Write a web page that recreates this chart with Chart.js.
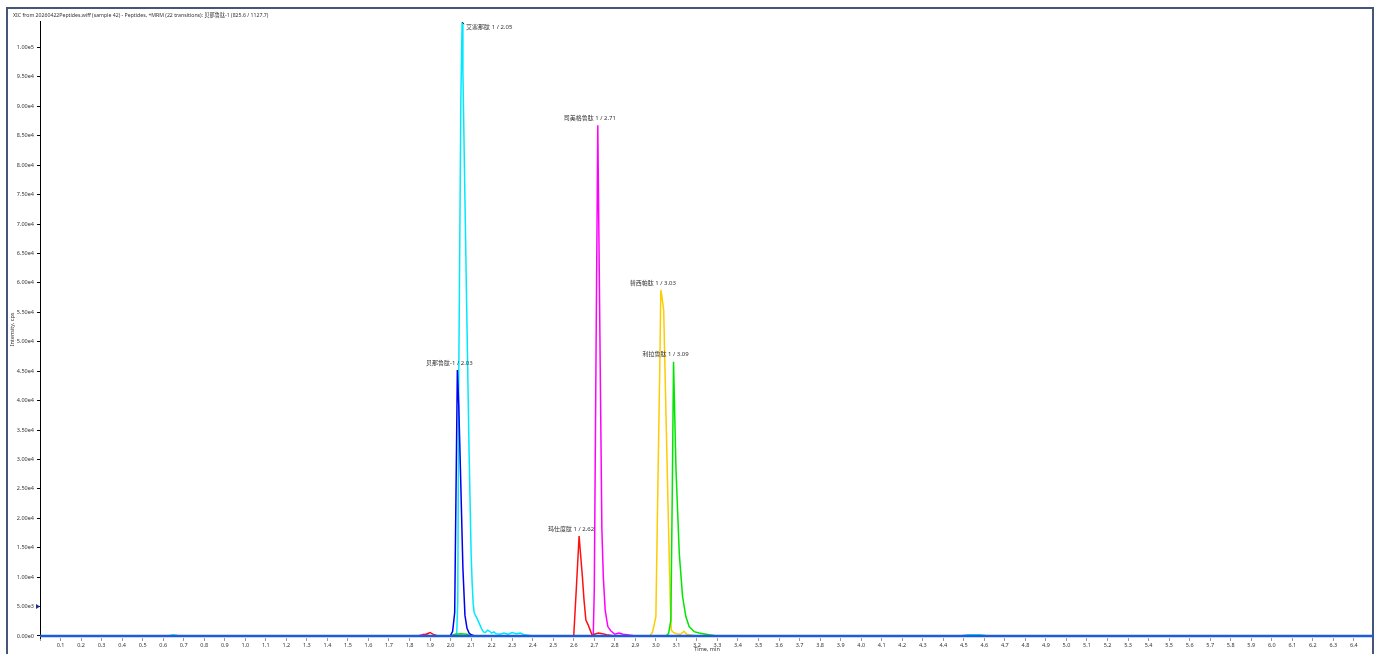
<!DOCTYPE html>
<html>
<head>
<meta charset="utf-8">
<script src="https://cdn.jsdelivr.net/npm/chart.js@4.4.1/dist/chart.umd.min.js"></script>
<style>
  body { margin: 0; background: #fff; }
  #frame { position: absolute; left: 6px; top: 7px; width: 1368px; height: 660px; border: 2px solid #46567a; box-sizing: border-box; }
  #c { position: absolute; left: 0; top: 0; }
</style>
</head>
<body>
<div id="frame"></div>
<canvas id="c" width="1377" height="654"></canvas>
<script>
// XIC traces, time in min, intensity in cps
const titleText = 'XIC from 20260422Peptides.wiff (sample 42) - Peptides, +MRM (22 transitions): 贝那鲁肽-1 (825.6 / 1127.7)';

const yTicks = [0, 5000, 10000, 15000, 20000, 25000, 30000, 35000, 40000, 45000, 50000,
    55000, 60000, 65000, 70000, 75000, 80000, 85000, 90000, 95000, 100000];

const baseTime = [0, 6.5];
const baseInt = [0, 0];

const blueTime = [0, 1.98, 2.00, 2.01, 2.02, 2.025, 2.033, 2.04, 2.05, 2.06, 2.07, 2.08, 2.09, 2.10, 2.12, 6.5];
const blueInt = [0, 0, 100, 800, 4000, 20000, 45200, 39000, 25500, 11500, 3500, 1300, 500, 200, 0, 0];

const cyanTime = [0, 0.62, 0.65, 0.68, 2.02, 2.03, 2.035, 2.04, 2.05, 2.056, 2.06, 2.07, 2.08, 2.09, 2.10, 2.105, 2.11, 2.115, 2.12, 2.13, 2.14, 2.15, 2.16, 2.17, 2.18, 2.19, 2.20, 2.21, 2.22, 2.24, 2.26, 2.28, 2.30, 2.32, 2.34, 2.36, 2.40, 4.48, 4.52, 4.58, 4.62, 6.5];
const cyanInt = [0, 0, 200, 0, 0, 400, 6000, 45000, 91000, 104300, 96000, 74000, 52500, 31500, 14000, 9000, 5500, 4000, 3600, 2900, 2100, 1300, 700, 600, 1000, 800, 500, 700, 400, 300, 500, 300, 600, 400, 500, 200, 0, 0, 200, 200, 0, 0];

const redTime = [0, 1.86, 1.88, 1.90, 1.92, 1.94, 2.59, 2.60, 2.613, 2.626, 2.634, 2.642, 2.65, 2.659, 2.67, 2.68, 2.69, 2.70, 2.72, 2.74, 2.76, 2.80, 6.5];
const redInt = [0, 0, 300, 600, 200, 0, 0, 100, 8400, 17000, 13500, 10100, 6100, 2700, 1900, 1000, 100, 300, 500, 400, 200, 0, 0];

const magentaTime = [0, 1.84, 1.87, 1.90, 2.69, 2.695, 2.70, 2.71, 2.717, 2.737, 2.744, 2.753, 2.766, 2.78, 2.79, 2.80, 2.82, 2.84, 2.86, 2.90, 6.5];
const magentaInt = [0, 0, 300, 0, 0, 200, 8000, 55000, 86800, 18000, 10000, 4400, 1600, 900, 600, 300, 500, 300, 200, 0, 0];

const yellowTime = [0, 2.97, 2.984, 3.00, 3.01, 3.02, 3.024, 3.03, 3.038, 3.045, 3.05, 3.06, 3.065, 3.07, 3.075, 3.085, 3.10, 3.12, 3.137, 3.15, 3.20, 6.5];
const yellowInt = [0, 0, 700, 3300, 26000, 48000, 58800, 57500, 55400, 44200, 36400, 21000, 13700, 5800, 1000, 600, 400, 300, 800, 300, 0, 0];

const greenTime = [0, 2.00, 2.02, 2.05, 2.08, 2.10, 3.05, 3.062, 3.073, 3.08, 3.086, 3.098, 3.114, 3.13, 3.146, 3.162, 3.187, 3.21, 3.23, 3.26, 3.30, 6.5];
const greenInt = [0, 0, 300, 400, 300, 0, 0, 450, 2700, 25000, 46600, 28200, 14000, 6700, 3300, 1600, 730, 500, 400, 200, 0, 0];

const peakNames = ['贝那鲁肽-1 / 2.03', '艾塞那肽 1 / 2.05', '玛仕度肽 1 / 2.62', '司美格鲁肽 1 / 2.71', '替西帕肽 1 / 3.03', '利拉鲁肽 1 / 3.09'];

function series(label, times, values, color, width) {
    return {
        label: label,
        data: times.map((t, i) => ({ x: t, y: values[i] })),
        borderColor: color,
        borderWidth: width,
        pointRadius: 0,
        tension: 0,
        fill: false
    };
}

// first dataset is drawn on top
const datasets = [
    series('other transitions', baseTime, baseInt, '#1f5bd8', 2.5),
    series(peakNames[0], blueTime, blueInt, '#0000f0', 1.5),
    series(peakNames[5], greenTime, greenInt, '#00e600', 1.5),
    series(peakNames[4], yellowTime, yellowInt, '#ffcc00', 1.5),
    series(peakNames[2], redTime, redInt, '#ff1010', 1.5),
    series(peakNames[3], magentaTime, magentaInt, '#ff00ff', 1.5),
    series(peakNames[1], cyanTime, cyanInt, '#00e8ff', 1.5)
];

const font = "'Noto Sans', 'Noto Sans CJK SC', sans-serif";

// title, peak labels and threshold marker
const annotate = {
    id: 'annotate',
    afterDatasetsDraw(chart) {
        const c = chart.ctx;
        const xs = chart.scales.x, ys = chart.scales.y;
        c.save();
        c.fillStyle = '#333';
        c.font = '5.2px ' + font;
        c.textAlign = 'left';
        c.textBaseline = 'middle';
        c.fillText(titleText, 13, 16);

        c.font = '6px ' + font;
        chart.data.datasets.forEach((ds, i) => {
            if (i === 0) return;
            let top = ds.data[0];
            ds.data.forEach(p => { if (p.y > top.y) top = p; });
            const px = xs.getPixelForValue(top.x);
            const py = ys.getPixelForValue(top.y);
            if (ds.label === peakNames[1]) {
                c.textAlign = 'left';
                c.fillText(ds.label, px + 4, py + 5);
                c.strokeStyle = '#222';
                c.lineWidth = 1;
                c.beginPath();
                c.moveTo(px, py); c.lineTo(px + 2, py + 2);
                c.stroke();
            } else {
                c.textAlign = 'center';
                c.fillText(ds.label, px - 8, py - 7);
            }
        });

        // threshold marker on the y axis
        const my = ys.getPixelForValue(5000);
        c.fillStyle = '#1a2f9a';
        c.beginPath();
        c.moveTo(36, my - 2.5); c.lineTo(40, my); c.lineTo(36, my + 2.5);
        c.closePath();
        c.fill();
        c.restore();
    }
};

new Chart(document.getElementById('c'), {
    type: 'line',
    data: { datasets: datasets },
    options: {
        responsive: false,
        animation: false,
        layout: { padding: { top: 21, right: 3, left: 0, bottom: 0 } },
        plugins: { legend: { display: false }, tooltip: { enabled: false } },
        scales: {
            x: {
                type: 'linear',
                min: 0,
                max: 6.498,
                afterFit: s => { s.height = 16; },
                border: { display: false },
                grid: { drawOnChartArea: false, tickLength: 3, color: '#9a9a9a' },
                ticks: {
                    stepSize: 0.1,
                    autoSkip: false,
                    maxRotation: 0,
                    includeBounds: false,
                    padding: 1,
                    color: '#333',
                    font: { size: 5.5, family: font },
                    callback: v => v < 0.05 ? '' : v.toFixed(1)
                },
                title: { display: true, text: 'Time, min', color: '#333', font: { size: 5.5, family: font }, padding: { top: 0, bottom: 1 } }
            },
            y: {
                min: -340,
                max: 104500,
                afterFit: s => { s.width = 40; },
                afterBuildTicks: s => { s.ticks = yTicks.map(v => ({ value: v })); },
                border: { display: true, color: '#000', width: 1 },
                grid: { drawOnChartArea: false, tickLength: 3, color: '#000' },
                ticks: {
                    padding: 3,
                    color: '#333',
                    font: { size: 5.5, family: font },
                    callback: v => v.toExponential(2).replace('e+', 'e')
                },
                title: { display: true, text: 'Intensity, cps', color: '#333', font: { size: 5.5, family: font }, padding: { top: 9, bottom: 0 } }
            }
        }
    },
    plugins: [annotate]
});
</script>
</body>
</html>
